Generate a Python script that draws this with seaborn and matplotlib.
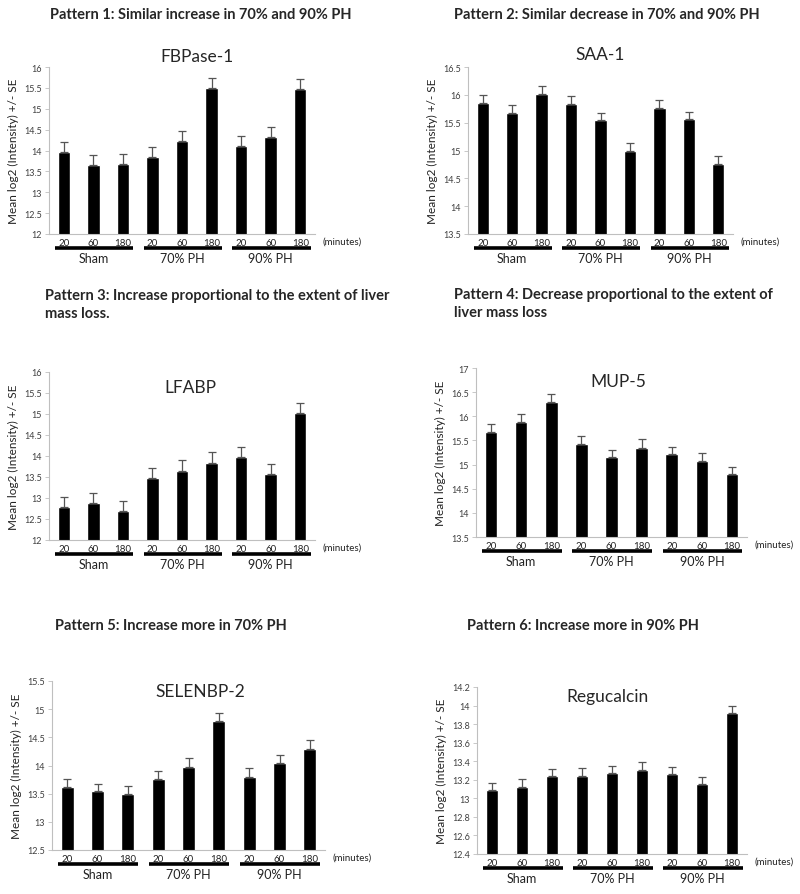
import numpy as np
import pandas as pd
import matplotlib
matplotlib.use("Agg")
import matplotlib.pyplot as plt
import matplotlib.transforms as mtransforms
import seaborn as sns

# --- veriler ---
groups = ["Sham", "70% PH", "90% PH"]
minutes = ["20", "60", "180"]

pattern_titles = [
    "Pattern 1: Similar increase in 70% and 90% PH",
    "Pattern 2: Similar decrease in 70% and 90% PH",
    "Pattern 3: Increase proportional to the extent of liver\nmass loss.",
    "Pattern 4: Decrease proportional to the extent of\nliver mass loss",
    "Pattern 5: Increase more in 70% PH",
    "Pattern 6: Increase more in 90% PH",
]
genes = ["FBPase-1", "SAA-1", "LFABP", "MUP-5", "SELENBP-2", "Regucalcin"]

fbpase_mean = [13.97, 13.65, 13.68, 13.85, 14.23, 15.50, 14.11, 14.32, 15.47]
fbpase_se = [0.23, 0.24, 0.24, 0.24, 0.24, 0.23, 0.24, 0.24, 0.24]
saa_mean = [15.85, 15.67, 16.02, 15.83, 15.54, 15.00, 15.76, 15.56, 14.76]
saa_se = [0.14, 0.15, 0.14, 0.15, 0.14, 0.14, 0.14, 0.14, 0.14]
lfabp_mean = [12.78, 12.87, 12.69, 13.47, 13.65, 13.84, 13.97, 13.57, 15.03]
lfabp_se = [0.24, 0.25, 0.24, 0.25, 0.26, 0.25, 0.25, 0.25, 0.24]
mup_mean = [15.67, 15.88, 16.30, 15.43, 15.15, 15.35, 15.21, 15.08, 14.80]
mup_se = [0.16, 0.17, 0.16, 0.16, 0.16, 0.17, 0.16, 0.15, 0.15]
selenbp_mean = [13.62, 13.54, 13.49, 13.76, 13.98, 14.79, 13.80, 14.05, 14.30]
selenbp_se = [0.14, 0.14, 0.14, 0.14, 0.15, 0.14, 0.15, 0.14, 0.15]
regu_mean = [13.09, 13.12, 13.24, 13.24, 13.27, 13.31, 13.26, 13.15, 13.92]
regu_se = [0.08, 0.09, 0.08, 0.09, 0.08, 0.08, 0.08, 0.08, 0.08]

means = [fbpase_mean, saa_mean, lfabp_mean, mup_mean, selenbp_mean, regu_mean]
ses = [fbpase_se, saa_se, lfabp_se, mup_se, selenbp_se, regu_se]
ylims = [(12, 16), (13.5, 16.5), (12, 16), (13.5, 17), (12.5, 15.5), (12.4, 14.2)]
ysteps = [0.5, 0.5, 0.5, 0.5, 0.5, 0.2]

# --- yerlesim (piksel olarak: sol, sag, ust, alt) ---
W, H = 800, 895
axes_px = [(49, 315, 68, 235), (468, 733, 68, 235),
           (49, 315, 373, 541), (476, 747, 369, 538),
           (52, 325, 682, 851), (477, 747, 688, 855)]
title_px = [(50, 15), (454, 15), (45, 305), (454, 304), (55, 626), (467, 626)]
gene_px = [(197, 57), (600, 55), (190, 388), (618, 382), (200, 692), (608, 697)]

sns.set_theme(style="white")
plt.rcParams["font.family"] = ["Lato", "DejaVu Sans"]

fig = plt.figure(figsize=(W / 100, H / 100), dpi=100)

conds = [f"{g} {m}" for g in groups for m in minutes]

for i in range(6):
    l, r, t, b = axes_px[i]
    ax = fig.add_axes([l / W, 1 - b / H, (r - l) / W, (b - t) / H])
    df = pd.DataFrame({"cond": conds, "value": means[i]})
    sns.barplot(data=df, x="cond", y="value", color="black", saturation=1,
                width=0.42, errorbar=None, ax=ax)

    xs = np.arange(len(conds))
    ax.errorbar(xs, means[i], yerr=[np.zeros(len(conds)), ses[i]], fmt="none",
                ecolor="#555555", elinewidth=0.9, capsize=3, capthick=0.9)

    ax.set_xlim(-0.5, 8.5)
    lo, hi = ylims[i]
    ax.set_ylim(lo, hi)
    ticks = np.round(np.arange(lo, hi + 1e-6, ysteps[i]), 2)
    ax.set_yticks(ticks)
    ax.set_yticklabels([f"{v:g}" for v in ticks], fontsize=6.5, color="#404040")
    ax.set_xticks(xs)
    ax.set_xticklabels(minutes * 3, fontsize=7, color="#222222")
    ax.tick_params(axis="x", length=0, pad=3)
    ax.tick_params(axis="y", length=3, width=0.6, color="#bfbfbf", pad=2, left=True)
    ax.set_xlabel("")
    ax.set_ylabel("Mean log2 (Intensity) +/- SE", fontsize=8.5, color="#222222", labelpad=4)
    sns.despine(ax=ax)
    for s in ["left", "bottom"]:
        ax.spines[s].set_color("#bfbfbf")
        ax.spines[s].set_linewidth(0.8)

    # gruplarin altindaki kalin cizgiler ve etiketler
    line_tr = ax.get_xaxis_transform() + mtransforms.ScaledTranslation(0, -0.14, fig.dpi_scale_trans)
    lab_tr = ax.get_xaxis_transform() + mtransforms.ScaledTranslation(0, -0.24, fig.dpi_scale_trans)
    min_tr = ax.get_xaxis_transform() + mtransforms.ScaledTranslation(0, -0.075, fig.dpi_scale_trans)
    for g, name in enumerate(groups):
        ax.plot([3 * g - 0.3, 3 * g + 2.35], [0, 0], color="black", lw=2.6,
                transform=line_tr, clip_on=False, solid_capstyle="butt")
        ax.text(3 * g + 1.0, 0, name, transform=lab_tr, ha="center", va="center",
                fontsize=9, color="#222222")
    ax.text(8.75, 0, "(minutes)", transform=min_tr, ha="left", va="center",
            fontsize=7, color="#222222")

    gx, gy = gene_px[i]
    fig.text(gx / W, 1 - gy / H, genes[i], ha="center", va="center", fontsize=12.5)

    tx, ty = title_px[i]
    fig.text(tx / W, 1 - ty / H, pattern_titles[i], ha="left", va="center",
             fontsize=10.5, fontweight="bold", linespacing=1.3)

fig.savefig("out.png", dpi=100)
